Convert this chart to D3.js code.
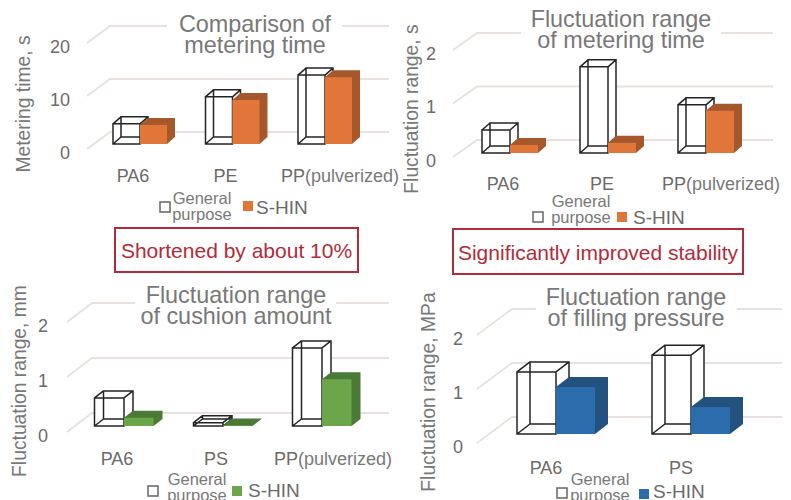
<!DOCTYPE html>
<html lang="en">
  <head>
    <title>Metering comparison</title>
    <script src="https://d3js.org/d3.v7.min.js"></script>
    <style>
      html, body { margin: 0; padding: 0; background: #fff; }
      text { font-family: "Liberation Sans", Arial, sans-serif; }
    </style>
  </head>

  <body>
    <div id="chart"></div>

    <script>
      // values
      const seriesNames = ["General purpose", "S-HIN"];

      const timeCats = ["PA6", "PE", "PP"];
      const timeGeneral = [3.8, 8.9, 13.0];
      const timeShin = [3.6, 8.3, 12.6];
      const timeTicks = [0, 10, 20];

      const rangeCats = ["PA6", "PE", "PP"];
      const rangeGeneral = [0.43, 1.61, 0.90];
      const rangeShin = [0.15, 0.19, 0.79];

      const cushionCats = ["PA6", "PS", "PP"];
      const cushionGeneral = [0.51, 0.06, 1.42];
      const cushionShin = [0.15, 0.01, 0.85];

      const pressureCats = ["PA6", "PS"];
      const pressureGeneral = [1.15, 1.46];
      const pressureShin = [0.87, 0.50];

      const smallTicks = [0, 1, 2];

      const notes = ["Shortened by about 10%", "Significantly improved stability"];

      const grey = "#787878";
      const tickGrey = "#6e6a68";
      const gridColor = "#e8e1dd";
      const noteRed = "#b32b38";

      const svg = d3.select("#chart")
        .append("svg")
          .attr("width", 791)
          .attr("height", 500)
          .style("display", "block");

      function drawPanel(p) {
        const n = p.cats.length;
        const y = d3.scaleLinear().domain([0, p.ticks[2]]).range([p.y0, p.y2]);

        const pad = 1 - 2 * p.barW / p.step;
        const x = d3.scaleBand()
          .domain(p.cats)
          .range([p.mid0 - p.step / 2, p.mid0 + p.step * (n - 1) + p.step / 2])
          .paddingInner(pad)
          .paddingOuter(pad / 2);
        const inner = d3.scaleBand()
          .domain(seriesNames)
          .range([0, x.bandwidth()]);

        const g = svg.append("g");

        // wall lines
        p.ticks.forEach(function(t) {
          g.append("path")
            .attr("fill", "none")
            .attr("stroke", gridColor)
            .attr("stroke-width", 1.8)
            .attr("d", d3.line()([
              [p.wallX, y(t)],
              [p.wallX + p.wallDx, y(t) + p.wallDy],
              [p.gridEnd, y(t) + p.wallDy]
            ]));
        });

        // tick labels
        const axis = g.append("g")
          .attr("transform", "translate(" + p.tickX + ",0)")
          .call(d3.axisLeft(y).tickValues(p.ticks).tickFormat(d3.format("d")).tickSize(0).tickPadding(0));
        axis.select(".domain").remove();
        axis.selectAll("text")
          .attr("font-size", 18)
          .attr("font-family", "Liberation Sans")
          .attr("fill", tickGrey)
          .attr("dy", "0.52em");

        // general purpose boxes are only wireframes
        p.cats.forEach(function(c, i) {
          const h = y(p.general[i]) - p.y0;
          const x0 = x(c) + inner(seriesNames[0]);
          const w = inner.bandwidth();
          const by = p.y0 + p.base;
          const dx = p.depthX, dy = p.depthY;
          g.append("path")
            .attr("fill", "#fff")
            .attr("stroke", "#242424")
            .attr("stroke-width", 1.5)
            .attr("d",
              "M" + x0 + "," + by + "h" + w + "v" + h + "h" + (-w) + "Z" +
              "M" + (x0 + dx) + "," + (by + dy) + "h" + w + "v" + h + "h" + (-w) + "Z" +
              "M" + x0 + "," + by + "l" + dx + "," + dy +
              "M" + (x0 + w) + "," + by + "l" + dx + "," + dy +
              "M" + x0 + "," + (by + h) + "l" + dx + "," + dy +
              "M" + (x0 + w) + "," + (by + h) + "l" + dx + "," + dy);
        });

        // S-HIN boxes
        p.cats.forEach(function(c, i) {
          const h = y(p.shin[i]) - p.y0;
          const x0 = x(c) + inner(seriesNames[1]);
          const w = inner.bandwidth();
          const by = p.y0 + p.base;
          const dx = p.depthX, dy = p.depthY;
          g.append("path")
            .attr("fill", p.dark)
            .attr("d",
              "M" + x0 + "," + (by + h) + "l" + dx + "," + dy + "h" + w +
              "v" + (-h) + "l" + (-dx) + "," + (-dy) + "h" + (-w) + "Z");
          g.append("rect")
            .attr("x", x0)
            .attr("y", by + h)
            .attr("width", w)
            .attr("height", -h)
            .attr("fill", p.color);
        });

        // category labels
        p.cats.forEach(function(c, i) {
          const t = g.append("text")
            .attr("x", x(c) + x.bandwidth() / 2 + p.labelDx[i])
            .attr("y", p.labelY)
            .attr("text-anchor", "middle")
            .attr("font-size", 18)
            .attr("fill", tickGrey)
            .text(c);
          if (c === "PP") {
            t.append("tspan").attr("fill", "#787878").text("(pulverized)");
          }
        });

        // title sits on a white patch that cuts the top wall line
        g.append("rect")
          .attr("x", p.maskX)
          .attr("y", y(p.ticks[2]) + p.wallDy - 6)
          .attr("width", p.maskW)
          .attr("height", 12)
          .attr("fill", "#fff");
        p.title.forEach(function(line, i) {
          g.append("text")
            .attr("x", p.titleX)
            .attr("y", p.titleY + i * 21)
            .attr("text-anchor", "middle")
            .attr("font-size", 23.4)
            .attr("fill", grey)
            .text(line);
        });

        // y axis title
        g.append("text")
          .attr("transform", "translate(" + p.axisX + "," + p.axisY + ") rotate(-90)")
          .attr("text-anchor", "middle")
          .attr("font-size", 19.3)
          .attr("fill", grey)
          .text(p.axisTitle);

        // legend
        const lg = p.legend;
        g.append("rect")
          .attr("x", lg.boxX)
          .attr("y", lg.boxY)
          .attr("width", 10)
          .attr("height", 10)
          .attr("fill", "#fff")
          .attr("stroke", "#6f6f6f")
          .attr("stroke-width", 1.6);
        seriesNames[0].split(" ").forEach(function(word, i) {
          g.append("text")
            .attr("x", lg.textX)
            .attr("y", lg.textY + i * 16)
            .attr("text-anchor", "middle")
            .attr("font-size", 16.5)
            .attr("fill", grey)
            .text(word);
        });
        g.append("rect")
          .attr("x", lg.swatchX)
          .attr("y", lg.swatchY)
          .attr("width", 10)
          .attr("height", 10)
          .attr("fill", p.color);
        g.append("text")
          .attr("x", lg.nameX)
          .attr("y", lg.nameY)
          .attr("font-size", 19)
          .attr("fill", "#6a6a6a")
          .text(seriesNames[1]);
      }

      drawPanel({
        cats: timeCats, general: timeGeneral, shin: timeShin, ticks: timeTicks,
        title: ["Comparison of", "metering time"], axisTitle: "Metering time, s",
        color: "#e0763a", dark: "#a5582c",
        y0: 149, y2: 43, base: -5, mid0: 140, step: 92.5, barW: 27, depthX: 8, depthY: -7,
        wallX: 87, wallDx: 23, wallDy: -17, gridEnd: 389, tickX: 70,
        labelY: 182, labelDx: [-7, -7, 15],
        maskX: 167, maskW: 175, titleX: 255, titleY: 32,
        axisX: 30, axisY: 104,
        legend: {boxX: 160, boxY: 202, textX: 202, textY: 204, swatchX: 243, swatchY: 201, nameX: 256, nameY: 214}
      });

      drawPanel({
        cats: rangeCats, general: rangeGeneral, shin: rangeShin, ticks: smallTicks,
        title: ["Fluctuation range", "of metering time"], axisTitle: "Fluctuation range, s",
        color: "#e0763a", dark: "#a5582c",
        y0: 157, y2: 50, base: -4, mid0: 510, step: 98, barW: 28, depthX: 8, depthY: -7,
        wallX: 453, wallDx: 24, wallDy: -17, gridEnd: 773, tickX: 436,
        labelY: 190, labelDx: [-7, -6, 15],
        maskX: 521, maskW: 200, titleX: 621, titleY: 27,
        axisX: 418, axisY: 109,
        legend: {boxX: 533, boxY: 212, textX: 581, textY: 207, swatchX: 617, swatchY: 212, nameX: 633, nameY: 224}
      });

      drawPanel({
        cats: cushionCats, general: cushionGeneral, shin: cushionShin, ticks: smallTicks,
        title: ["Fluctuation range", "of cushion amount"], axisTitle: "Fluctuation range, mm",
        color: "#6ba64b", dark: "#4a7a35",
        y0: 432, y2: 322, base: -6, mid0: 124, step: 99, barW: 29.5, depthX: 9, depthY: -7,
        wallX: 67, wallDx: 25, wallDy: -19, gridEnd: 389, tickX: 48,
        labelY: 465, labelDx: [-7, -7, 11],
        maskX: 135, maskW: 201, titleX: 236, titleY: 303,
        axisX: 26, axisY: 381,
        legend: {boxX: 148, boxY: 486, textX: 197, textY: 485, swatchX: 232, swatchY: 486, nameX: 248, nameY: 497}
      });

      drawPanel({
        cats: pressureCats, general: pressureGeneral, shin: pressureShin, ticks: smallTicks,
        title: ["Fluctuation range", "of filling pressure"], axisTitle: "Fluctuation range, MPa",
        color: "#2a6cac", dark: "#24527f",
        y0: 443, y2: 335, base: -9, mid0: 556, step: 135, barW: 39, depthX: 13, depthY: -10,
        wallX: 477, wallDx: 35, wallDy: -26, gridEnd: 782, tickX: 463,
        labelY: 474, labelDx: [-10, -10],
        maskX: 536, maskW: 201, titleX: 636, titleY: 305,
        axisX: 435, axisY: 392,
        legend: {boxX: 557, boxY: 488, textX: 600, textY: 485, swatchX: 639, swatchY: 489, nameX: 653, nameY: 498}
      });

      // red call-out boxes
      const noteBoxes = [
        {x: 115, y: 228, w: 243, h: 44, base: 258},
        {x: 453, y: 229, w: 290, h: 45, base: 260}
      ];
      notes.forEach(function(note, i) {
        const b = noteBoxes[i];
        svg.append("rect")
          .attr("x", b.x)
          .attr("y", b.y)
          .attr("width", b.w)
          .attr("height", b.h)
          .attr("fill", "#fff")
          .attr("stroke", noteRed)
          .attr("stroke-width", 2);
        svg.append("text")
          .attr("x", b.x + b.w / 2)
          .attr("y", b.base)
          .attr("text-anchor", "middle")
          .attr("font-size", 21)
          .attr("fill", noteRed)
          .text(note);
      });
    </script>
  </body>
</html>
